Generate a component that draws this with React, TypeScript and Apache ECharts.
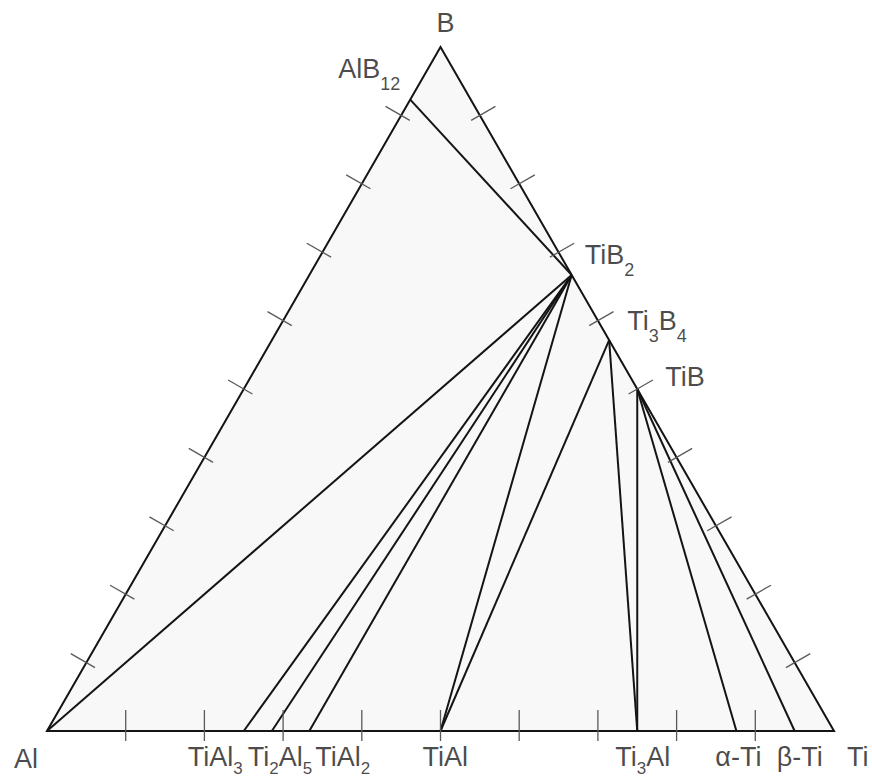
import React, { useEffect, useRef } from "react";
import * as echarts from "echarts";

// ---- Data: phase compositions as (Ti fraction, B fraction); Al is the remainder ----
const PHASE_NAMES = ["Al", "Ti", "B", "AlB12", "TiB2", "Ti3B4", "TiB", "TiAl3", "Ti2Al5", "TiAl2", "TiAl", "Ti3Al", "α-Ti", "β-Ti"];
const PHASE_TI = [0, 1, 0, 0, 1 / 3, 3 / 7, 0.5, 0.25, 2 / 7, 1 / 3, 0.5, 0.75, 0.876, 0.95];
const PHASE_B = [0, 0, 1, 12 / 13, 2 / 3, 4 / 7, 0.5, 0, 0, 0, 0, 0, 0, 0];

// Triangle corners
const TRIANGLE = ["Al", "Ti", "B"];

// Tie lines (from -> to)
const TIE_FROM = ["AlB12", "TiB2", "TiB2", "TiB2", "TiB2", "TiB2", "Ti3B4", "Ti3B4", "TiB", "TiB", "TiB"];
const TIE_TO = ["TiB2", "Al", "TiAl3", "Ti2Al5", "TiAl2", "TiAl", "TiAl", "Ti3Al", "Ti3Al", "α-Ti", "β-Ti"];

// Tick fractions along each side
const TICKS = [0.1, 0.2, 0.3, 0.4, 0.5, 0.6, 0.7, 0.8, 0.9];
// sides: [start corner, end corner, opposite corner]
const SIDE_NAMES = ["bottom", "left", "right"];
const SIDE_START = ["Al", "Al", "Ti"];
const SIDE_END = ["Ti", "B", "B"];
const SIDE_OPP = ["B", "Ti", "Al"];

// Labels (rich text) anchored to phases
const LABEL_PHASES = ["B", "AlB12", "TiB2", "Ti3B4", "TiB", "Al", "TiAl3", "Ti2Al5", "TiAl2", "TiAl", "Ti3Al", "α-Ti", "β-Ti", "Ti"];
const LABEL_TEXTS = [
  "{n|B}",
  "{n|AlB}{s|12}",
  "{n|TiB}{s|2}",
  "{n|Ti}{s|3}{n|B}{s|4}",
  "{n|TiB}",
  "{n|Al}",
  "{n|TiAl}{b|3}",
  "{n|Ti}{b|2}{n|Al}{b|5}",
  "{n|TiAl}{b|2}",
  "{n|TiAl}",
  "{n|Ti}{b|3}{n|Al}",
  "{n|α-Ti}",
  "{n|β-Ti}",
  "{n|Ti}",
];

// ---- Layout / style (not data) ----
const LABEL_LAYOUT: Record<string, { offset: [number, number]; align: string }> = {
  B: { offset: [-4, -24], align: "left" },
  AlB12: { offset: [-72, -31], align: "left" },
  TiB2: { offset: [13, -20], align: "left" },
  Ti3B4: { offset: [18, -19], align: "left" },
  TiB: { offset: [28, -12], align: "left" },
  Al: { offset: [-33, 28], align: "left" },
  TiAl3: { offset: [-56, 26], align: "left" },
  Ti2Al5: { offset: [-24, 26], align: "left" },
  TiAl2: { offset: [6, 26], align: "left" },
  TiAl: { offset: [-18, 26], align: "left" },
  Ti3Al: { offset: [-22, 26], align: "left" },
  "α-Ti": { offset: [2, 26], align: "center" },
  "β-Ti": { offset: [5, 26], align: "center" },
  Ti: { offset: [13, 26], align: "left" },
};
const TICK_LEN: Record<string, { out: number; inn: number }> = {
  bottom: { out: 10, inn: 21 },
  left: { out: 18, inn: 10 },
  right: { out: 18, inn: 10 },
};
const FONT = "'Liberation Sans', Arial, Helvetica, sans-serif";
const LINE_COLOR = "#141414";
const TICK_COLOR = "#5a5a5a";
const FILL_COLOR = "#f8f8f8";
const TEXT_COLOR = "#1a1a1a";

const toXY = (ti: number, b: number): [number, number] => [ti + b / 2, b];
const phaseXY = (name: string): [number, number] => {
  const i = PHASE_NAMES.indexOf(name);
  return toXY(PHASE_TI[i], PHASE_B[i]);
};

export default function App() {
  const ref = useRef<HTMLDivElement>(null);

  useEffect(() => {
    if (!ref.current) return;
    const chart = echarts.init(ref.current, undefined, { renderer: "svg" });

    const triData = [TRIANGLE.flatMap((n) => phaseXY(n))];
    const tieData = TIE_FROM.map((f, i) => [...phaseXY(f), ...phaseXY(TIE_TO[i])]);

    const tickData: number[][] = [];
    SIDE_NAMES.forEach((_, s) => {
      TICKS.forEach((t) => {
        let ti = 0;
        let b = 0;
        if (s === 0) { ti = t; b = 0; }
        else if (s === 1) { ti = 0; b = t; }
        else { ti = 1 - t; b = t; }
        const [x, y] = toXY(ti, b);
        tickData.push([x, y, s]);
      });
    });

    const labelData = LABEL_PHASES.map((name, i) => ({
      name,
      value: phaseXY(name),
      labelText: LABEL_TEXTS[i],
      label: {
        offset: LABEL_LAYOUT[name].offset,
        align: LABEL_LAYOUT[name].align,
      },
    }));

    const option: any = {
      animation: false,
      backgroundColor: "#ffffff",
      grid: { left: 47, right: 38, top: 47, bottom: 48, containLabel: false },
      xAxis: { type: "value", min: 0, max: 1, show: false },
      yAxis: { type: "value", min: 0, max: 1, show: false },
      series: [
        {
          type: "custom",
          coordinateSystem: "cartesian2d",
          clip: false,
          silent: true,
          z: 1,
          data: triData,
          renderItem: (_p: any, api: any) => {
            const pts = [0, 1, 2].map((k) => api.coord([api.value(2 * k), api.value(2 * k + 1)]));
            return {
              type: "polygon",
              shape: { points: pts },
              style: { fill: FILL_COLOR, stroke: LINE_COLOR, lineWidth: 2, lineJoin: "miter" },
            };
          },
        },
        {
          type: "custom",
          coordinateSystem: "cartesian2d",
          clip: false,
          silent: true,
          z: 2,
          data: tieData,
          renderItem: (_p: any, api: any) => {
            const a = api.coord([api.value(0), api.value(1)]);
            const b = api.coord([api.value(2), api.value(3)]);
            return {
              type: "line",
              shape: { x1: a[0], y1: a[1], x2: b[0], y2: b[1] },
              style: { stroke: LINE_COLOR, lineWidth: 2 },
            };
          },
        },
        {
          type: "custom",
          coordinateSystem: "cartesian2d",
          clip: false,
          silent: true,
          z: 3,
          data: tickData,
          renderItem: (_p: any, api: any) => {
            const s = api.value(2);
            const p = api.coord([api.value(0), api.value(1)]);
            const P = api.coord(phaseXY(SIDE_START[s]));
            const Q = api.coord(phaseXY(SIDE_END[s]));
            const R = api.coord(phaseXY(SIDE_OPP[s]));
            const dx = Q[0] - P[0];
            const dy = Q[1] - P[1];
            const len = Math.hypot(dx, dy);
            let nx = -dy / len;
            let ny = dx / len;
            if (nx * (R[0] - p[0]) + ny * (R[1] - p[1]) > 0) { nx = -nx; ny = -ny; }
            const L = TICK_LEN[SIDE_NAMES[s]];
            return {
              type: "line",
              shape: {
                x1: p[0] + nx * L.out,
                y1: p[1] + ny * L.out,
                x2: p[0] - nx * L.inn,
                y2: p[1] - ny * L.inn,
              },
              style: { stroke: TICK_COLOR, lineWidth: 1.3 },
            };
          },
        },
        {
          type: "scatter",
          coordinateSystem: "cartesian2d",
          silent: true,
          z: 5,
          symbolSize: 1,
          itemStyle: { color: "rgba(0,0,0,0)" },
          data: labelData,
          label: {
            show: true,
            position: "inside",
            verticalAlign: "middle",
            color: TEXT_COLOR,
            fontFamily: FONT,
            formatter: (p: any) => p.data.labelText,
            rich: {
              n: { fontSize: 27, fontFamily: FONT, color: TEXT_COLOR },
              s: { fontSize: 18, fontFamily: FONT, color: TEXT_COLOR, padding: [30, 0, 0, 0] },
              b: { fontSize: 17, fontFamily: FONT, color: TEXT_COLOR, padding: [23, 0, 0, 0] },
            },
          },
        },
      ],
    };

    chart.setOption(option);
    return () => chart.dispose();
  }, []);

  return (
    <div
      ref={ref}
      style={{ position: "absolute", left: 0, top: 0, width: 872, height: 779, background: "#fff" }}
    />
  );
}
